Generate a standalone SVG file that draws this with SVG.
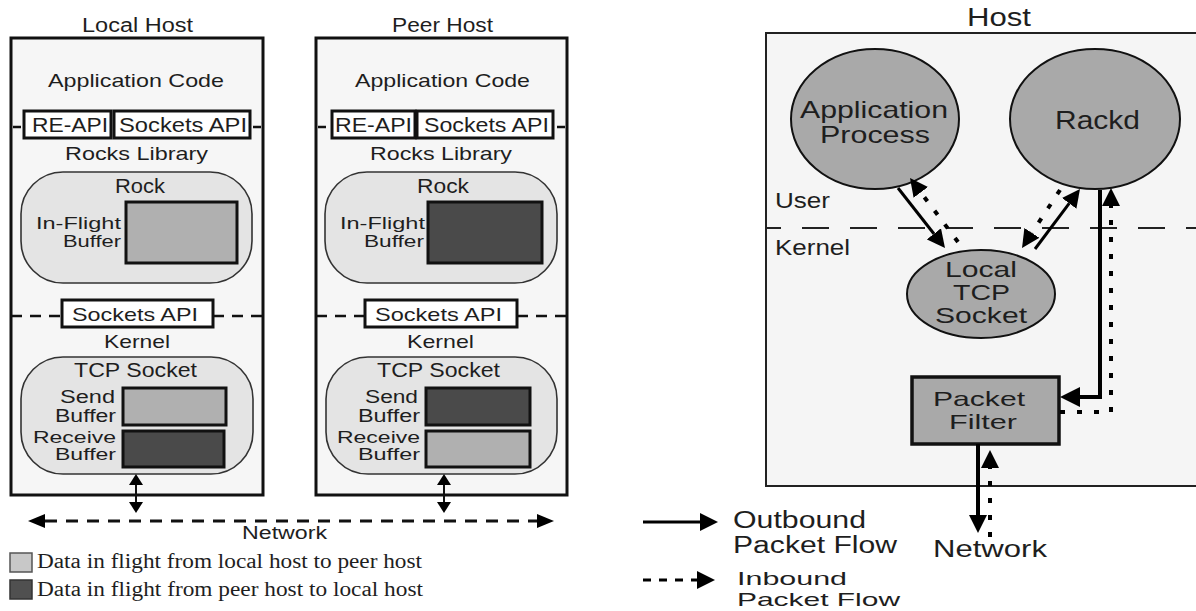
<svg xmlns="http://www.w3.org/2000/svg" width="1196" height="611" viewBox="0 0 1196 611">
  <style>
    .t { font-family: "Liberation Sans", Arial, Helvetica, sans-serif; fill: #1e1e1e; }
    .serif { font-family: "Liberation Serif", "Times New Roman", serif; fill: #1e1e1e; }
    .hostbox { fill: #f6f6f6; stroke: #111; stroke-width: 3; }
    .api { fill: #ffffff; stroke: #111; stroke-width: 3; }
    .pod { fill: #e4e4e4; stroke: #333; stroke-width: 1.6; }
    .buf { stroke: #111; stroke-width: 3; }
    .light { fill: #b0b0b0; }
    .dark { fill: #4a4a4a; }
    .layer { stroke: #111; stroke-width: 2.5; stroke-dasharray: 11 8; fill: none; }
    .stub { stroke: #111; stroke-width: 2.5; }
    .io { stroke: #111; stroke-width: 2; fill: none; }
    .net { stroke: #111; stroke-width: 3; stroke-dasharray: 12 9; fill: none; }
    .proc { fill: #a9a9a9; stroke: #111; stroke-width: 2; }
    .filter { fill: #a9a9a9; stroke: #111; stroke-width: 3.5; }
    .out { stroke: #000; stroke-width: 3; fill: none; }
    .outv { stroke: #000; stroke-width: 4; fill: none; }
    .in { stroke: #000; stroke-width: 4; stroke-dasharray: 5 12; fill: none; }
    .split { stroke: #222; stroke-width: 1.8; stroke-dasharray: 27 21; stroke-dashoffset: 12; fill: none; }
  </style>
  <defs>
    <marker id="tip-s" markerUnits="userSpaceOnUse" viewBox="0 0 11 14" markerWidth="11" markerHeight="14" refX="0" refY="7" orient="auto-start-reverse">
      <path d="M0,0 L11,7 L0,14 z" fill="#000"/>
    </marker>
    <marker id="tip-net" markerUnits="userSpaceOnUse" viewBox="0 0 17 14" markerWidth="17" markerHeight="14" refX="0" refY="7" orient="auto-start-reverse">
      <path d="M0,0 L17,7 L0,14 z" fill="#000"/>
    </marker>
    <marker id="tip-l" markerUnits="userSpaceOnUse" viewBox="0 0 18 18" markerWidth="18" markerHeight="18" refX="0" refY="9" orient="auto">
      <path d="M0,0 L18,9 L0,18 z" fill="#000"/>
    </marker>
    <marker id="tip-xl" markerUnits="userSpaceOnUse" viewBox="0 0 20 20" markerWidth="20" markerHeight="20" refX="0" refY="10" orient="auto">
      <path d="M0,0 L20,10 L0,20 z" fill="#000"/>
    </marker>
  </defs>

  <!-- ===== Local host ===== -->
  <g id="local-host">
    <text class="t" x="82" y="32" font-size="20" textLength="111" lengthAdjust="spacingAndGlyphs">Local Host</text>
    <rect class="hostbox" x="11" y="38" width="252" height="457"/>
    <text class="t" x="48" y="87" font-size="19" textLength="176" lengthAdjust="spacingAndGlyphs">Application Code</text>
    <line class="stub" x1="13" y1="127" x2="21" y2="127"/>
    <line class="stub" x1="253" y1="127" x2="261" y2="127"/>
    <rect class="api" x="24" y="111" width="87" height="27"/>
    <text class="t" x="32" y="132" font-size="20" textLength="76" lengthAdjust="spacingAndGlyphs">RE-API</text>
    <rect class="api" x="114" y="111" width="136" height="27"/>
    <text class="t" x="119" y="132" font-size="20" textLength="128" lengthAdjust="spacingAndGlyphs">Sockets API</text>
    <text class="t" x="65" y="160" font-size="19" textLength="143" lengthAdjust="spacingAndGlyphs">Rocks Library</text>
    <rect class="pod" x="21" y="172" width="231" height="111" rx="42" ry="42"/>
    <text class="t" x="115" y="193" font-size="20" textLength="50" lengthAdjust="spacingAndGlyphs">Rock</text>
    <text class="t" x="36" y="229" font-size="17" textLength="85" lengthAdjust="spacingAndGlyphs">In-Flight</text>
    <text class="t" x="63" y="247" font-size="17" textLength="58" lengthAdjust="spacingAndGlyphs">Buffer</text>
    <rect class="buf light" x="126" y="202" width="111" height="61"/>
    <line class="layer" x1="11" y1="316" x2="62" y2="316"/>
    <line class="layer" x1="213" y1="316" x2="263" y2="316"/>
    <rect class="api" x="62" y="300" width="151" height="27"/>
    <text class="t" x="72" y="321" font-size="19" textLength="126" lengthAdjust="spacingAndGlyphs">Sockets API</text>
    <text class="t" x="104" y="348" font-size="19" textLength="66" lengthAdjust="spacingAndGlyphs">Kernel</text>
    <rect class="pod" x="21" y="357" width="232" height="117" rx="42" ry="42"/>
    <text class="t" x="74" y="377" font-size="20" textLength="123" lengthAdjust="spacingAndGlyphs">TCP Socket</text>
    <text class="t" x="60" y="403" font-size="18" textLength="55" lengthAdjust="spacingAndGlyphs">Send</text>
    <text class="t" x="55" y="422" font-size="18" textLength="61" lengthAdjust="spacingAndGlyphs">Buffer</text>
    <rect class="buf light" x="123" y="388" width="103" height="37"/>
    <text class="t" x="33" y="443" font-size="17" textLength="83" lengthAdjust="spacingAndGlyphs">Receive</text>
    <text class="t" x="55" y="460" font-size="17" textLength="61" lengthAdjust="spacingAndGlyphs">Buffer</text>
    <rect class="buf dark" x="123" y="431" width="101" height="36"/>
  </g>

  <!-- ===== Peer host ===== -->
  <g id="peer-host">
    <text class="t" x="392" y="32" font-size="20" textLength="101" lengthAdjust="spacingAndGlyphs">Peer Host</text>
    <rect class="hostbox" x="316" y="38" width="251" height="457"/>
    <text class="t" x="355" y="87" font-size="19" textLength="175" lengthAdjust="spacingAndGlyphs">Application Code</text>
    <line class="stub" x1="318" y1="127" x2="326" y2="127"/>
    <line class="stub" x1="557" y1="127" x2="565" y2="127"/>
    <rect class="api" x="332" y="111" width="83" height="27"/>
    <text class="t" x="335" y="132" font-size="20" textLength="77" lengthAdjust="spacingAndGlyphs">RE-API</text>
    <rect class="api" x="417" y="111" width="136" height="27"/>
    <text class="t" x="424" y="132" font-size="20" textLength="125" lengthAdjust="spacingAndGlyphs">Sockets API</text>
    <text class="t" x="370" y="160" font-size="19" textLength="142" lengthAdjust="spacingAndGlyphs">Rocks Library</text>
    <rect class="pod" x="325" y="172" width="232" height="111" rx="42" ry="42"/>
    <text class="t" x="417" y="193" font-size="20" textLength="52" lengthAdjust="spacingAndGlyphs">Rock</text>
    <text class="t" x="340" y="229" font-size="17" textLength="85" lengthAdjust="spacingAndGlyphs">In-Flight</text>
    <text class="t" x="364" y="247" font-size="17" textLength="60" lengthAdjust="spacingAndGlyphs">Buffer</text>
    <rect class="buf dark" x="428" y="202" width="114" height="61"/>
    <line class="layer" x1="316" y1="316" x2="365" y2="316"/>
    <line class="layer" x1="517" y1="316" x2="567" y2="316"/>
    <rect class="api" x="365" y="300" width="152" height="27"/>
    <text class="t" x="375" y="321" font-size="19" textLength="127" lengthAdjust="spacingAndGlyphs">Sockets API</text>
    <text class="t" x="407" y="348" font-size="19" textLength="67" lengthAdjust="spacingAndGlyphs">Kernel</text>
    <rect class="pod" x="326" y="357" width="231" height="117" rx="42" ry="42"/>
    <text class="t" x="377" y="377" font-size="20" textLength="123" lengthAdjust="spacingAndGlyphs">TCP Socket</text>
    <text class="t" x="365" y="403" font-size="18" textLength="53" lengthAdjust="spacingAndGlyphs">Send</text>
    <text class="t" x="358" y="422" font-size="18" textLength="62" lengthAdjust="spacingAndGlyphs">Buffer</text>
    <rect class="buf dark" x="426" y="388" width="104" height="37"/>
    <text class="t" x="337" y="443" font-size="17" textLength="83" lengthAdjust="spacingAndGlyphs">Receive</text>
    <text class="t" x="358" y="460" font-size="17" textLength="62" lengthAdjust="spacingAndGlyphs">Buffer</text>
    <rect class="buf light" x="426" y="431" width="104" height="36"/>
  </g>

  <!-- links between the two hosts and the network -->
  <g id="host-links">
    <line class="io" x1="136" y1="485" x2="136" y2="502" marker-start="url(#tip-s)" marker-end="url(#tip-s)"/>
    <line class="io" x1="444" y1="485" x2="444" y2="502" marker-start="url(#tip-s)" marker-end="url(#tip-s)"/>
    <line class="net" x1="45" y1="521" x2="537" y2="521" marker-start="url(#tip-net)" marker-end="url(#tip-net)"/>
    <text class="t" x="242" y="539" font-size="18" textLength="85" lengthAdjust="spacingAndGlyphs">Network</text>
  </g>

  <!-- shading key -->
  <g id="shade-key">
    <rect x="10" y="553" width="22" height="19" fill="#c8c8c8" stroke="#555" stroke-width="1.5"/>
    <text class="serif" x="37" y="568" font-size="20" textLength="385" lengthAdjust="spacingAndGlyphs">Data in flight from local host to peer host</text>
    <rect x="10" y="580" width="22" height="19" fill="#505050" stroke="#333" stroke-width="1.5"/>
    <text class="serif" x="37" y="596" font-size="20" textLength="386" lengthAdjust="spacingAndGlyphs">Data in flight from peer host to local host</text>
  </g>

  <!-- ===== Host with Rackd ===== -->
  <g id="host">
    <text class="t" x="967" y="26" font-size="26" textLength="64" lengthAdjust="spacingAndGlyphs">Host</text>
    <rect x="766" y="33" width="450" height="453" fill="#f5f5f5" stroke="#222" stroke-width="2"/>
    <line class="split" x1="766" y1="228" x2="1196" y2="228"/>
    <text class="t" x="775" y="208" font-size="22" textLength="55" lengthAdjust="spacingAndGlyphs">User</text>
    <text class="t" x="775" y="255" font-size="22" textLength="75" lengthAdjust="spacingAndGlyphs">Kernel</text>
  </g>

  <g id="app-process">
    <ellipse class="proc" cx="875" cy="119" rx="84" ry="70"/>
    <text class="t" x="800" y="118" font-size="24" textLength="148" lengthAdjust="spacingAndGlyphs">Application</text>
    <text class="t" x="820" y="143" font-size="24" textLength="110" lengthAdjust="spacingAndGlyphs">Process</text>
  </g>

  <g id="rackd">
    <ellipse class="proc" cx="1095" cy="119" rx="85" ry="70"/>
    <text class="t" x="1055" y="129" font-size="26" textLength="85" lengthAdjust="spacingAndGlyphs">Rackd</text>
  </g>

  <g id="local-tcp-socket">
    <ellipse class="proc" cx="981" cy="294" rx="74" ry="44"/>
    <text class="t" x="945" y="277" font-size="22" textLength="72" lengthAdjust="spacingAndGlyphs">Local</text>
    <text class="t" x="953" y="300" font-size="22" textLength="57" lengthAdjust="spacingAndGlyphs">TCP</text>
    <text class="t" x="935" y="323" font-size="22" textLength="92" lengthAdjust="spacingAndGlyphs">Socket</text>
  </g>

  <g id="packet-filter">
    <rect class="filter" x="912" y="377" width="147" height="67"/>
    <text class="t" x="933" y="406" font-size="21" textLength="92" lengthAdjust="spacingAndGlyphs">Packet</text>
    <text class="t" x="949" y="429" font-size="21" textLength="68" lengthAdjust="spacingAndGlyphs">Filter</text>
  </g>

  <!-- packet flows -->
  <g id="flows">
    <line class="out" x1="898" y1="188" x2="933.9" y2="233.8" marker-end="url(#tip-l)"/>
    <line class="in" x1="958" y1="242" x2="920.8" y2="192.4" marker-end="url(#tip-l)"/>
    <line class="out" x1="1035" y1="249" x2="1069.2" y2="203.4" marker-end="url(#tip-l)"/>
    <line class="in" x1="1060" y1="190" x2="1031.9" y2="232.9" marker-end="url(#tip-l)"/>
    <polyline class="outv" points="1100,190 1100,397 1080,397" marker-end="url(#tip-xl)"/>
    <polyline class="in" points="1060,412 1111,412 1111,206" marker-end="url(#tip-l)"/>
    <line class="outv" x1="978" y1="444" x2="978" y2="515" marker-end="url(#tip-l)"/>
    <line class="in" x1="990" y1="537" x2="990" y2="468" marker-end="url(#tip-l)"/>
    <text class="t" x="933" y="557" font-size="24" textLength="114" lengthAdjust="spacingAndGlyphs">Network</text>
  </g>

  <!-- flow key -->
  <g id="flow-key">
    <line class="out" x1="643" y1="522" x2="700" y2="522" marker-end="url(#tip-l)"/>
    <text class="t" x="733" y="528" font-size="23" textLength="133" lengthAdjust="spacingAndGlyphs">Outbound</text>
    <text class="t" x="733" y="553" font-size="23" textLength="164" lengthAdjust="spacingAndGlyphs">Packet Flow</text>
    <line x1="643" y1="580" x2="697" y2="580" stroke="#000" stroke-width="3" stroke-dasharray="8 8" marker-end="url(#tip-l)"/>
    <text class="t" x="737" y="585" font-size="19" textLength="110" lengthAdjust="spacingAndGlyphs">Inbound</text>
    <text class="t" x="737" y="606" font-size="19" textLength="163" lengthAdjust="spacingAndGlyphs">Packet Flow</text>
  </g>
</svg>
